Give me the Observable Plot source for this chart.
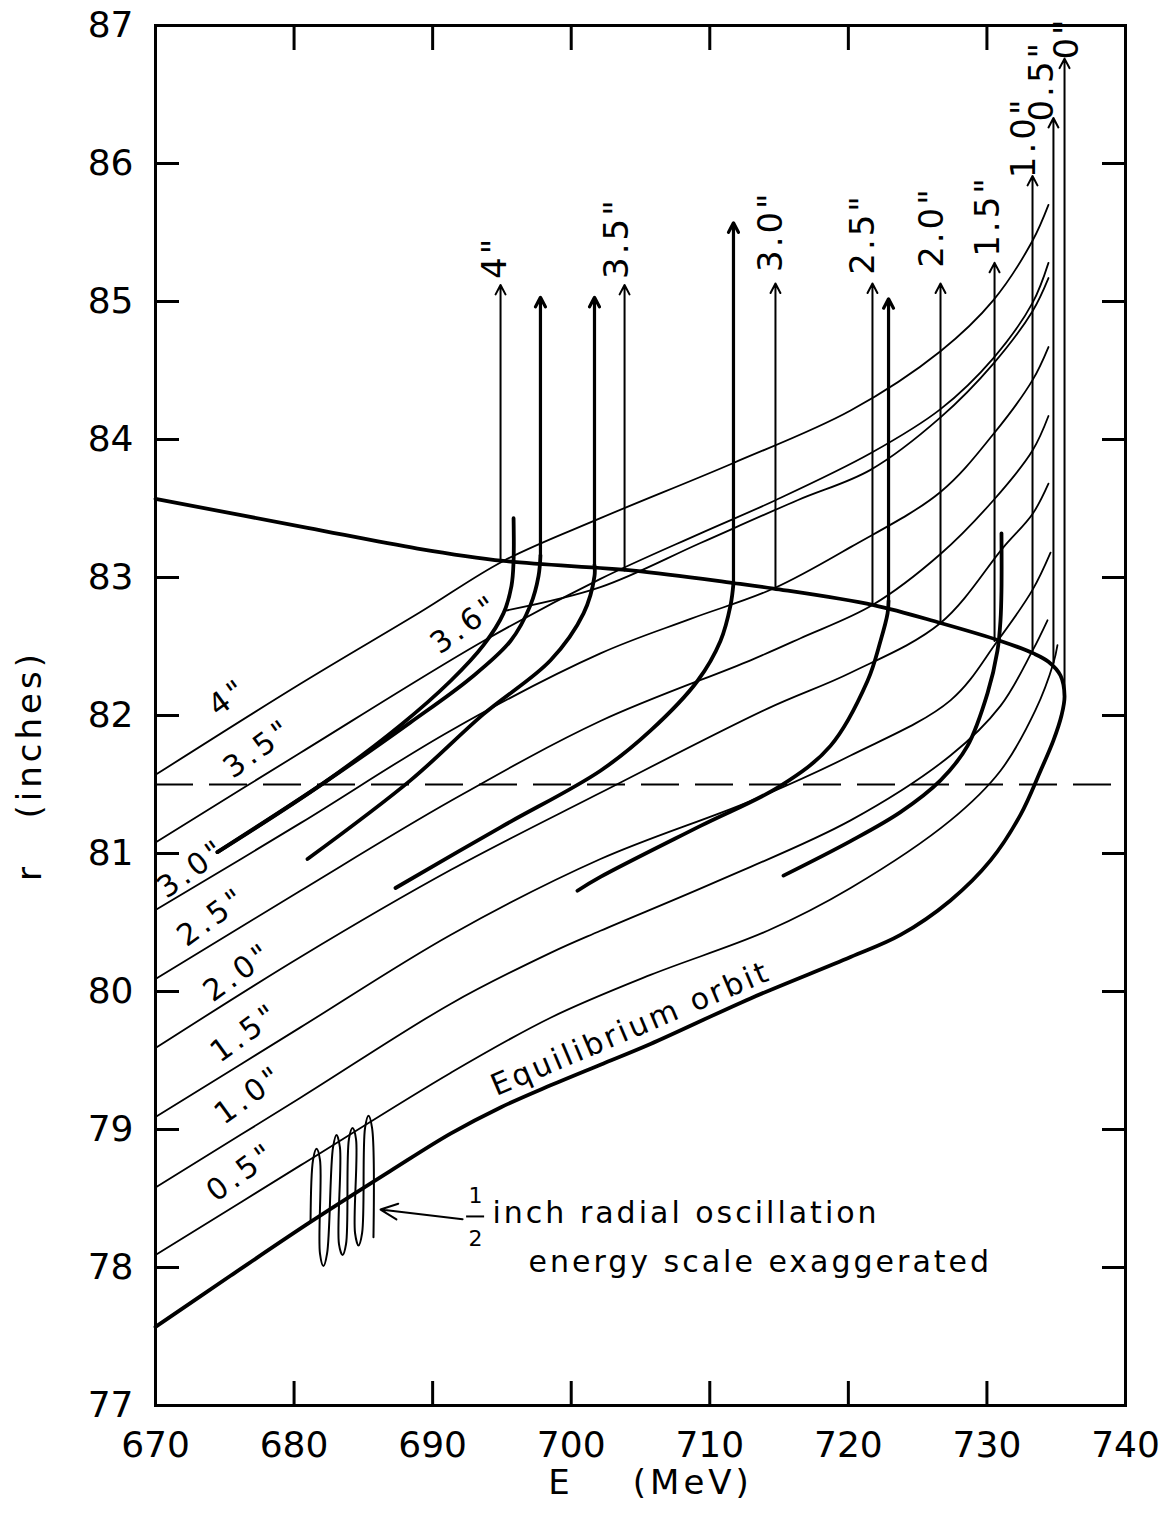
<!DOCTYPE html>
<html><head><meta charset="utf-8">
<script src="https://cdn.jsdelivr.net/npm/d3@7"></script>
<script src="https://cdn.jsdelivr.net/npm/@observablehq/plot@0.6"></script>
<style>body{margin:0;background:#fff} svg{display:block}</style>
</head><body><div id="chart"></div>
<script>
// ---- axis ticks ----
const xTicks = [670, 680, 690, 700, 710, 720, 730, 740];
const yTicks = [77, 78, 79, 80, 81, 82, 83, 84, 85, 86, 87];
const dashedR = [81.5];

// ---- equilibrium orbit (continues round the right and back along the top) [E, r] ----
const equilibrium = [[670,77.57],[675.41,77.94],[681.19,78.33],[686.96,78.70],[691.29,78.97],[694.90,79.16],[698.51,79.32],[702.11,79.47],[705.72,79.62],[712.94,79.95],[720.16,80.25],[723.76,80.41],[727.37,80.66],[730.26,80.95],[732.42,81.28],[733.87,81.60],[734.80,81.82],[735.38,82.00],[735.60,82.14],[735.31,82.29],[734.44,82.39],[733.36,82.45],[730.98,82.54],[726.65,82.67],[721.82,82.80],[714.60,82.92],[711.71,82.96],[704.50,83.05],[695.11,83.12],[688.91,83.21],[680.97,83.36],[670,83.57]];

// ---- thin amplitude curves ----
const amp4  = [[670,81.57],[680.46,82.23],[689.12,82.75],[695.11,83.12],[702.11,83.43],[711.71,83.83],[720.16,84.21],[726.65,84.64],[730.47,85.01],[733.29,85.44],[734.44,85.70]];
const amp35 = [[670,81.08],[680.46,81.73],[693.67,82.54],[702.11,82.99],[709.33,83.32],[714.74,83.56],[721.60,83.90],[726.65,84.22],[730.47,84.59],[733.29,84.99],[734.44,85.28]];
const amp36 = [[695.26,82.76],[702.11,82.93],[709.33,83.25],[716.33,83.56],[721.60,83.78],[726.65,84.16],[730.47,84.55],[733.29,84.93],[734.44,85.17]];
const amp30 = [[670,80.59],[680.46,81.22],[691.29,81.89],[702.11,82.45],[708.61,82.70],[714.60,82.92],[720.16,83.22],[726.65,83.62],[730.47,84.04],[733.29,84.43],[734.44,84.67]];
const amp25 = [[670,80.09],[680.46,80.73],[691.29,81.38],[702.11,81.96],[712.94,82.40],[716.55,82.56],[721.74,82.80],[726.65,83.17],[730.47,83.56],[733.29,83.92],[734.44,84.17]];
const amp20 = [[670,79.59],[680.46,80.25],[691.29,80.88],[702.11,81.44],[714.17,82.05],[720.16,82.31],[726.65,82.67],[731.20,83.22],[733.29,83.46],[734.44,83.68]];
const amp15 = [[670,79.09],[680.46,79.74],[691.29,80.41],[702.11,80.96],[712.94,81.38],[720.16,81.71],[727.37,82.11],[730.76,82.54],[733.29,82.91],[734.59,83.18]];
const amp10 = [[670,78.58],[680.46,79.23],[691.29,79.91],[698.51,80.28],[702.11,80.44],[710.56,80.80],[720.16,81.24],[727.37,81.71],[730.98,82.07],[733.29,82.47],[734.37,82.69]];
const amp05 = [[670,78.09],[680.46,78.74],[691.29,79.41],[698.51,79.81],[705.72,80.12],[714.17,80.44],[720.16,80.75],[727.37,81.24],[730.98,81.60],[733.51,82.04],[734.80,82.38],[735.09,82.51]];

// ---- heavy trajectories ----
const traj1a = [[674.47,81.01],[682.12,81.51],[687.68,81.93],[691.29,82.25],[693.67,82.51],[695.11,82.74],[695.69,82.94],[695.84,83.12],[695.84,83.43]];
const traj1b = [[674.47,81.01],[682.12,81.51],[688.40,81.95],[692.73,82.27],[695.62,82.54],[697.06,82.80],[697.64,83.01],[697.78,83.16]];
const traj2  = [[680.97,80.96],[688.40,81.53],[693.67,82.01],[698.51,82.40],[700.89,82.74],[701.68,83.01],[701.68,83.09]];
const traj3  = [[687.32,80.75],[694.90,81.19],[702.11,81.60],[705.72,81.89],[709.11,82.25],[710.77,82.54],[711.50,82.80],[711.71,82.96]];
const traj4  = [[700.45,80.73],[702.11,80.83],[709.33,81.20],[715.10,81.49],[718.71,81.78],[721.38,82.25],[722.32,82.54],[722.83,82.74],[722.90,82.83]];
const traj5  = [[715.32,80.84],[720.16,81.09],[723.76,81.30],[726.65,81.53],[728.60,81.78],[730.04,82.16],[730.76,82.47],[730.98,82.69],[731.05,82.91],[731.05,83.32]];

// ---- half-inch radial oscillation sketch ----
const oscillation = [[681.19,78.33],
  [681.37,78.78],[681.62,78.86],[681.87,78.78],
  [681.87,78.10],[682.12,78.01],[682.38,78.10],
  [682.81,78.87],[683.06,78.96],[683.31,78.87],
  [683.24,78.17],[683.50,78.09],[683.75,78.17],
  [683.96,78.93],[684.22,79.01],[684.47,78.93],
  [684.40,78.25],[684.65,78.16],[684.91,78.25],
  [685.12,79.01],[685.37,79.10],[685.63,79.01],
  [685.73,78.22]];

// ---- vertical arrows: E, r start, r tip, heavy? ----
const arrowE     = [694.90, 697.78, 701.68, 703.85, 711.71, 714.74, 721.74, 722.90, 726.65, 730.55, 733.29, 734.80, 735.60];
const arrowFrom  = [83.12, 83.16, 83.09, 83.05, 82.96, 82.92, 82.80, 82.83, 82.67, 82.54, 82.46, 82.38, 82.14];
const arrowTo    = [85.12, 85.03, 85.03, 85.12, 85.57, 85.13, 85.13, 85.02, 85.13, 85.28, 85.91, 86.33, 86.76];
const arrowHeavy = [false, true, true, false, true, false, false, true, false, false, false, false, false];

// ---- labels above arrows ----
const topLabels = ['4"', '3.5"', '3.0"', '2.5"', '2.0"', '1.5"', '1.0"', '0.5"', '0"'];
const topLabelE = [694.54, 703.34, 714.45, 721.09, 726.07, 730.11, 732.71, 734.01, 735.82];
const topLabelR = [85.32, 85.46, 85.51, 85.49, 85.54, 85.62, 86.19, 86.60, 86.91];

// ---- labels along the amplitude curves ----
const sideLabels = ['4"', '3.5"', '3.6"', '3.0"', '2.5"', '2.0"', '1.5"', '1.0"', '0.5"'];
const sideLabelE = [675.27, 677.43, 692.37, 672.65, 674.10, 675.99, 676.49, 676.78, 676.21];
const sideLabelR = [82.13, 81.76, 82.66, 80.89, 80.54, 80.14, 79.70, 79.25, 78.69];

// ---- annotations ----
const eqLabel = [{E: 704.3, r: 79.73, text: "Equilibrium orbit"}];
const noteLines = [
  {E: 694.32, r: 78.39, text: "inch radial oscillation"},
  {E: 696.92, r: 78.04, text: "energy scale exaggerated"}
];
const half = [{E: 693.09, r: 78.52, text: "1"}, {E: 693.09, r: 78.21, text: "2"}];
const halfBar = [{E1: 692.45, E2: 693.75, r: 78.37}];
const noteArrow = [{E1: 692.16, r1: 78.35, E2: 686.24, r2: 78.42}];
const xTitle = ["E    (MeV)"];
const yTitle = ["r   (inches)"];

const font = "DejaVu Sans";
const pair = {x: d => d[0], y: d => d[1]};
const thin = (data) => Plot.line(data, {...pair, curve: "catmull-rom", stroke: "black", strokeWidth: 1.8});
const heavy = (data) => Plot.line(data, {...pair, curve: "catmull-rom", stroke: "black", strokeWidth: 3.8});

const arrows = arrowE.map((E, i) => ({E, r0: arrowFrom[i], r1: arrowTo[i], w: arrowHeavy[i] ? 3.2 : 2}));
const tops = topLabels.map((t, i) => ({t, E: topLabelE[i], r: topLabelR[i]}));
const sides = sideLabels.map((t, i) => ({t, E: sideLabelE[i], r: sideLabelR[i]}));

const chart = Plot.plot({
  width: 1160,
  height: 1522,
  marginLeft: 155,
  marginRight: 35,
  marginTop: 25,
  marginBottom: 117,
  style: {fontFamily: font, background: "white", color: "black"},
  x: {domain: [670, 740]},
  y: {domain: [77, 87]},
  marks: [
    Plot.ruleY(dashedR, {stroke: "black", strokeWidth: 2, strokeDasharray: "38,16"}),
    thin(amp4), thin(amp35), thin(amp36), thin(amp30), thin(amp25),
    thin(amp20), thin(amp15), thin(amp10), thin(amp05),
    heavy(equilibrium),
    heavy(traj1a), heavy(traj1b), heavy(traj2), heavy(traj3), heavy(traj4), heavy(traj5),
    Plot.line(oscillation, {...pair, curve: "catmull-rom", stroke: "black", strokeWidth: 2}),
    Plot.arrow(arrows, {x1: "E", y1: "r0", x2: "E", y2: "r1", stroke: "black", strokeWidth: "w", headLength: 16, headAngle: 55, inset: 0}),
    Plot.text(tops, {x: "E", y: "r", text: "t", rotate: -90, fontSize: 34, fill: "black", className: "sp3"}),
    Plot.text(sides, {x: "E", y: "r", text: "t", rotate: -36, fontSize: 30, fill: "black", className: "sp4"}),
    Plot.text(eqLabel, {x: "E", y: "r", text: "text", rotate: -23, fontSize: 30, fill: "black", className: "sp3"}),
    Plot.text(noteLines, {x: "E", y: "r", text: "text", textAnchor: "start", fontSize: 30, fill: "black", className: "sp3"}),
    Plot.text(half, {x: "E", y: "r", text: "text", fontSize: 22, fill: "black"}),
    Plot.ruleY(halfBar, {x1: "E1", x2: "E2", y: "r", stroke: "black", strokeWidth: 2}),
    Plot.arrow(noteArrow, {x1: "E1", y1: "r1", x2: "E2", y2: "r2", stroke: "black", strokeWidth: 2, headLength: 14, headAngle: 50}),
    Plot.frame({stroke: "black", strokeWidth: 3}),
    Plot.axisX({ticks: xTicks, anchor: "bottom", tickSize: -24, tickPadding: 50, fontSize: 36, strokeWidth: 3, label: null}),
    Plot.axisX({ticks: xTicks, anchor: "top", tickSize: -24, tickFormat: () => "", strokeWidth: 3, label: null}),
    Plot.axisY({ticks: yTicks, anchor: "left", tickSize: -24, tickPadding: 46, fontSize: 36, strokeWidth: 3, label: null}),
    Plot.axisY({ticks: yTicks, anchor: "right", tickSize: -24, tickFormat: () => "", strokeWidth: 3, label: null}),
    Plot.text(xTitle, {frameAnchor: "bottom", lineAnchor: "middle", textAnchor: "middle", dy: 78, dx: 10, fontSize: 34, fill: "black", className: "sp4"}),
    Plot.text(yTitle, {frameAnchor: "left", lineAnchor: "middle", textAnchor: "middle", dx: -125, dy: 50, rotate: -90, fontSize: 34, fill: "black", className: "sp4"})
  ]
});
// wide lettering, as in the hand-lettered original
chart.querySelectorAll(".sp3 text").forEach(t => t.style.letterSpacing = "3px");
chart.querySelectorAll(".sp4 text").forEach(t => t.style.letterSpacing = "4px");
document.getElementById("chart").appendChild(chart);
</script></body></html>
